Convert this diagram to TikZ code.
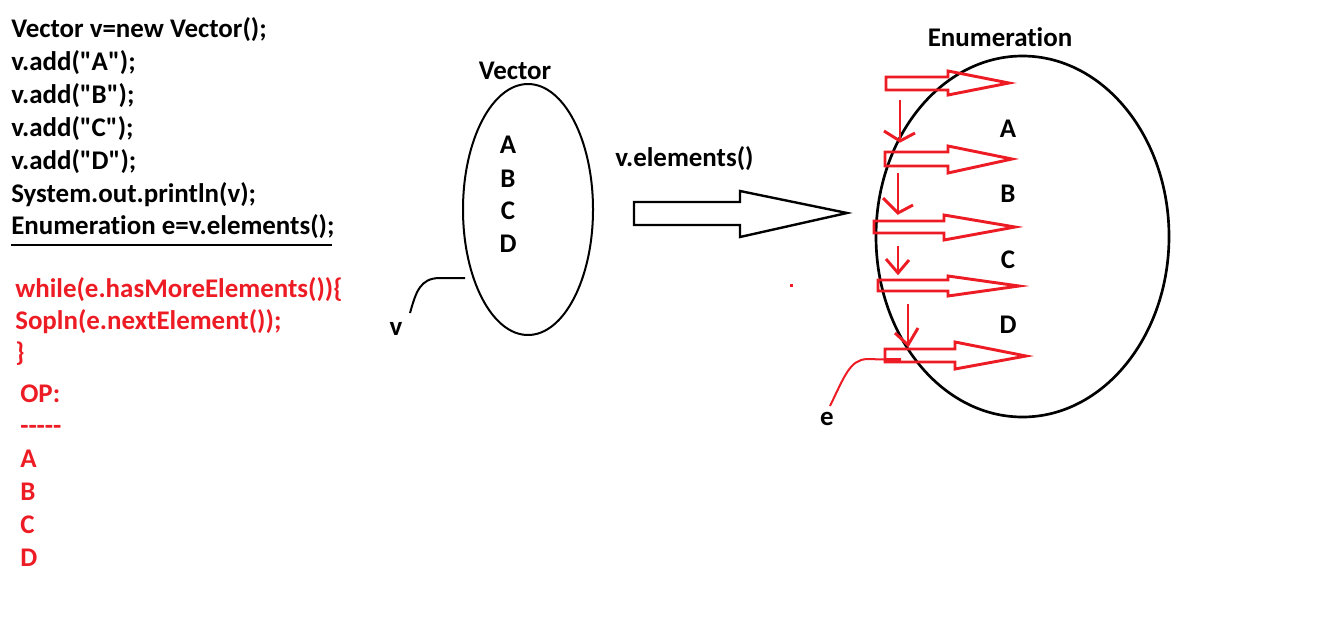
\documentclass[tikz,border=0pt]{standalone}
\usepackage{fontspec}
\setmainfont{Carlito}[Ligatures={TeXOff,NoCommon}]
\usetikzlibrary{shapes.geometric}
\definecolor{pred}{HTML}{ED1C24}
\begin{document}
\begin{tikzpicture}[x=0.75pt,y=-0.75pt,
  txt/.style={font=\fontsize{20.2}{22}\selectfont\bfseries, inner sep=0pt, anchor=base west},
  ctxt/.style={font=\fontsize{20.2}{22}\selectfont\bfseries, inner sep=0pt, anchor=base},
  rtxt/.style={txt, text=pred},
  ell/.style={draw, ellipse, inner sep=0pt, line width=1.7pt},
  ptr/.style={line width=1.5pt},
  bigarrow/.style={draw, line width=1.8pt, line join=miter},
  redarrow/.style={draw=pred, line width=2.2pt, line join=miter},
  downarrow/.style={draw=pred, line width=2.2pt}]
\useasboundingbox (0,0) rectangle (1327,629);

% code
\node[txt] (c1) at (11,37) {Vector v=new Vector();};
\node[txt] (c2) at (11,70) {v.add("A");};
\node[txt] (c3) at (11,103) {v.add("B");};
\node[txt] (c4) at (11,136) {v.add("C");};
\node[txt] (c5) at (11,169) {v.add("D");};
\node[txt] (c6) at (11,202) {System.out.println(v);};
\node[txt] (c7) at (11,234) {Enumeration e=v.elements();};
\coordinate (ul1) at (11,245);
\coordinate (ul2) at (332,245);
\draw[line width=2.2pt] (ul1) -- (ul2);

\node[rtxt] (r1) at (15,297) {while(e.hasMoreElements())\{};
\node[rtxt] (r2) at (15,329) {Sopln(e.nextElement());};
\node[rtxt] (r3) at (15,361) {\}};
\node[rtxt] (o1) at (20,402) {OP:};
\node[rtxt] (o2) at (20,434) {-{}-{}-{}-{}-};
\node[rtxt] (o3) at (20,467) {A};
\node[rtxt] (o4) at (20,500) {B};
\node[rtxt] (o5) at (20,533) {C};
\node[rtxt] (o6) at (20,566) {D};

% Vector
\node[ctxt] (vtitle) at (515,79) {Vector};
\node[ell, line width=1.5pt, minimum width=97.5pt, minimum height=188.25pt] (vec) at (528,209.5) {};
\node[ctxt] (va) at (508,153) {A};
\node[ctxt] (vb) at (508,187) {B};
\node[ctxt] (vc) at (508,219) {C};
\node[ctxt] (vd) at (508,252) {D};
\node[ctxt] (vlab) at (396,335) {v};
\coordinate (vend) at (465,278);
\draw[ptr] (vend) -- (440,278) .. controls (420,278) and (416,292) .. (410,313);

% big arrow
\node[txt] (velem) at (615,166) {v.elements()};
\draw[bigarrow] (634,202) -- (740,202) -- (740,191) -- (847,213) -- (740,237) -- (740,225) -- (634,225) -- cycle;

\fill[pred] (789.5,283.5) rectangle (792.5,286.5);

% Enumeration
\node[ctxt] (etitle) at (1000,46) {Enumeration};
\node[ell, line width=2pt, minimum width=219.75pt, minimum height=270.75pt] (enum) at (1022.5,236.5) {};
\node[ctxt] (ea) at (1008,137) {A};
\node[ctxt] (eb) at (1008,202) {B};
\node[ctxt] (ec) at (1008,268) {C};
\node[ctxt] (ed) at (1008,333) {D};

% red block arrows
\draw[redarrow] (886,77) -- (948,77) -- (948,71) -- (1009,83) -- (948,95) -- (948,90) -- (886,90) -- cycle;
\draw[redarrow] (885,152) -- (948,152) -- (948,146) -- (1012,159) -- (948,173) -- (948,166) -- (885,166) -- cycle;
\draw[redarrow] (874,221) -- (944,221) -- (944,215) -- (1015,227) -- (944,240) -- (944,233) -- (874,233) -- cycle;
\draw[redarrow] (878,280) -- (948,280) -- (948,276) -- (1019,286) -- (948,296) -- (948,291) -- (878,291) -- cycle;
\draw[redarrow] (885,349) -- (955,349) -- (955,342) -- (1026,356) -- (955,369) -- (955,362) -- (885,362) -- cycle;

% red down arrows
\draw[downarrow] (900,100) -- (900,141);
\draw[downarrow] (884,131) -- (900,141) -- (915,133);
\draw[downarrow] (898,173) -- (898,213);
\draw[downarrow] (883,198) -- (898,213) -- (913,205);
\draw[downarrow] (898,246) -- (898,273);
\draw[downarrow] (886,259) -- (898,273) -- (909,260);
\draw[downarrow] (908,304) -- (908,345);
\draw[downarrow] (895,333) -- (908,345) -- (918,328);

% e pointer
\node[ctxt] (elab) at (827,425) {e};
\coordinate (eend) at (901,360);
\draw[pred, line width=3pt] (885,360) -- (eend);
\draw[pred, ptr] (eend) -- (867,359) .. controls (850,360) and (845,375) .. (830,406);
\end{tikzpicture}
\end{document}
